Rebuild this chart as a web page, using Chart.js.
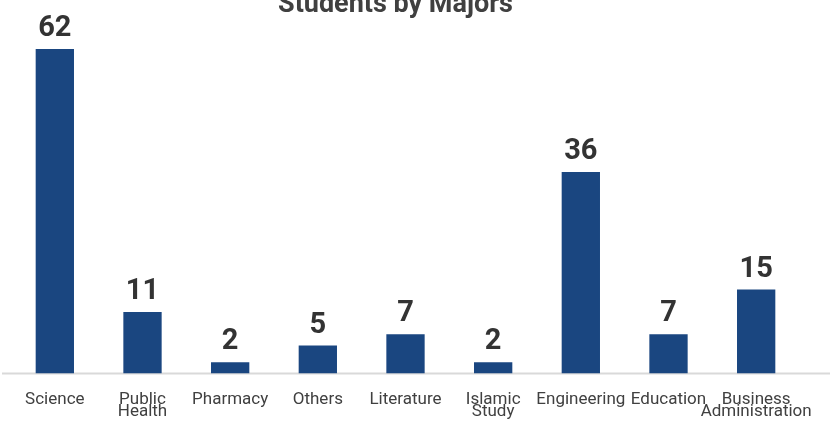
<!DOCTYPE html>
<html>
<head>
<meta charset="utf-8">
<title>Students by Majors</title>
<script src="https://cdn.jsdelivr.net/npm/chart.js@4.4.1/dist/chart.umd.min.js"></script>
<style>
  html, body { margin: 0; padding: 0; background: #fff; }
  canvas { display: block; }
</style>
</head>
<body>
<canvas id="majorsChart" width="830" height="421"></canvas>
<script>
// data
const majors = [
  ["Science"],
  ["Public", "Health"],
  ["Pharmacy"],
  ["Others"],
  ["Literature"],
  ["Islamic", "Study"],
  ["Engineering"],
  ["Education"],
  ["Business", "Administration"]
];
const studentCounts = [62, 11, 2, 5, 7, 2, 36, 7, 15];
const chartTitle = "Students by Majors";
const axisMax = 58; // the tallest bar runs off the top in the original

(function () {
  const el = document.getElementById("majorsChart");
  const ctx = el.getContext("2d");

  const textColor = "#404040";

  // full-width baseline under the bars
  const baseLine = {
    id: "baseLine",
    beforeDatasetsDraw(chart) {
      const c = chart.ctx;
      const y = chart.scales.y.getPixelForValue(0);
      c.save();
      c.strokeStyle = "#d9d9d9";
      c.lineWidth = 2;
      c.beginPath();
      c.moveTo(2, y);
      c.lineTo(chart.width, y);
      c.stroke();
      c.restore();
    }
  };

  // bold value above every bar + the title
  const valueLabels = {
    id: "valueLabels",
    afterDatasetsDraw(chart) {
      const c = chart.ctx;
      const area = chart.chartArea;
      const meta = chart.getDatasetMeta(0);
      c.save();
      c.font = "bold 29px Roboto";
      c.fillStyle = "#333333";
      c.textAlign = "center";
      c.textBaseline = "alphabetic";
      meta.data.forEach((bar, i) => {
        const top = Math.max(bar.y, area.top);
        c.fillText(String(studentCounts[i]), bar.x, top - 13);
      });
      c.font = "bold 27px Roboto";
      c.fillStyle = textColor;
      c.fillText(chartTitle, (area.left + area.right) / 2 - 10, 12);
      c.restore();
    }
  };

  const chart = new Chart(ctx, {
    type: "bar",
    data: {
      labels: majors,
      datasets: [{
        label: "Students",
        data: studentCounts,
        backgroundColor: "#1a4680",
        borderWidth: 0,
        barPercentage: 0.437,
        categoryPercentage: 1,
        clip: 0
      }]
    },
    options: {
      responsive: false,
      animation: false,
      layout: { padding: { top: 49, left: 11, right: 30, bottom: -17 } },
      plugins: {
        legend: { display: false },
        title: { display: false },
        tooltip: { enabled: false }
      },
      scales: {
        x: {
          grid: { display: false, drawTicks: false },
          border: { display: false },
          // let long labels hang past the plot edge like the original
          afterFit(scale) {
            scale.paddingLeft = 0;
            scale.paddingRight = 0;
          },
          ticks: {
            color: textColor,
            padding: 20,
            maxRotation: 0,
            autoSkip: false,
            font: { family: "Roboto", size: 17, lineHeight: 0.72 }
          }
        },
        y: {
          display: false,
          min: 0,
          max: axisMax
        }
      }
    },
    plugins: [baseLine, valueLabels]
  });

  window.majorsChart = chart;
})();
</script>
</body>
</html>
